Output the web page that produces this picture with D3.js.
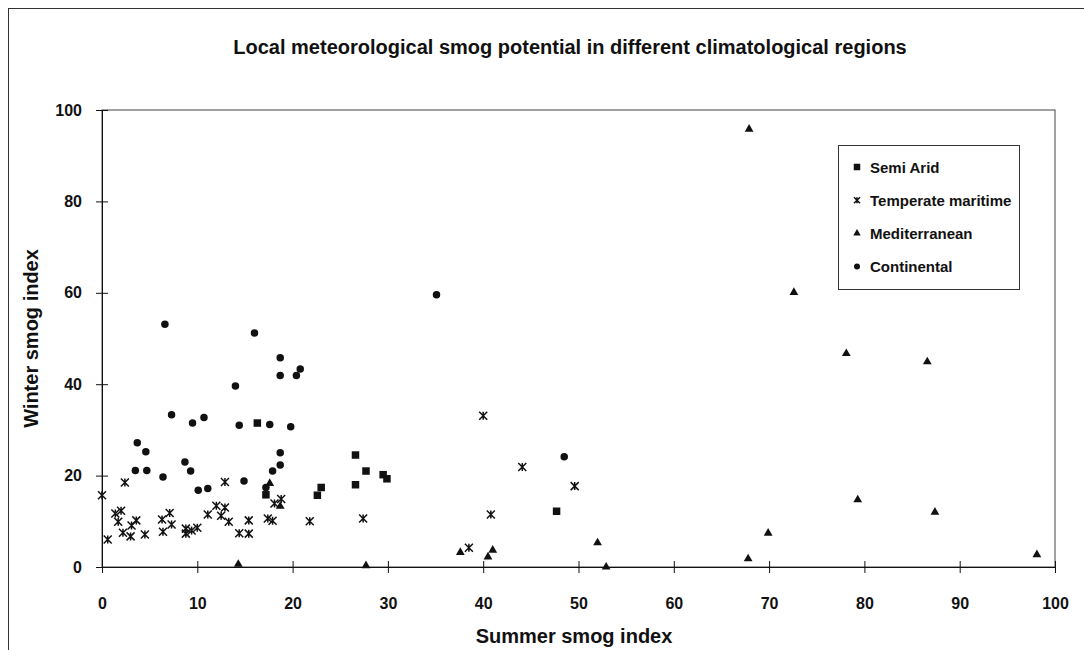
<!DOCTYPE html>
<html>
<head>
<meta charset="utf-8">
<script src="https://cdn.jsdelivr.net/npm/d3@7"></script>
<style>
  html, body { margin: 0; padding: 0; background: #fff; }
  svg { display: block; font-family: Arial, "Liberation Sans", Helvetica, sans-serif; }
</style>
</head>
<body>
<svg id="chart" width="1084" height="650"></svg>
<script>
// Summer / winter smog index per site, grouped by climatological region
const semiArid = [
  [16.3, 31.5], [17.2, 15.8], [22.6, 15.7], [23.0, 17.4], [26.6, 18.0],
  [26.6, 24.5], [27.7, 21.0], [29.5, 20.2], [29.9, 19.3], [47.7, 12.2]
];
const temperateMaritime = [
  [0.0, 15.7], [0.6, 6.0], [1.4, 11.7], [2.0, 12.3], [1.7, 9.9], [2.2, 7.5],
  [2.4, 18.5], [3.1, 9.1], [3.6, 10.2], [3.0, 6.7], [4.5, 7.1], [6.3, 10.4],
  [7.1, 11.8], [7.3, 9.3], [6.4, 7.7], [8.8, 8.4], [8.8, 7.3], [9.4, 8.0],
  [10.0, 8.6], [11.1, 11.5], [12.0, 13.4], [12.9, 13.0], [12.5, 11.2],
  [13.3, 9.9], [12.9, 18.6], [14.4, 7.4], [15.4, 7.3], [15.4, 10.2],
  [17.4, 10.6], [17.9, 10.1], [18.1, 13.9], [18.8, 14.9], [21.8, 10.0],
  [27.4, 10.6], [38.5, 4.2], [40.0, 33.1], [40.8, 11.5], [44.1, 21.9], [49.6, 17.7]
];
const mediterranean = [
  [14.3, 0.6], [17.6, 18.3], [18.7, 13.3], [27.7, 0.3], [37.6, 3.2], [40.5, 2.2],
  [41.0, 3.7], [52.0, 5.3], [52.9, 0.0], [67.8, 1.8], [67.9, 95.8], [69.9, 7.4],
  [72.6, 60.1], [78.1, 46.7], [79.3, 14.7], [86.6, 44.9], [87.4, 12.0], [98.1, 2.7]
];
const continental = [
  [3.5, 21.1], [3.7, 27.2], [4.6, 25.2], [4.7, 21.1], [6.4, 19.7], [6.6, 53.1],
  [7.3, 33.3], [8.7, 23.0], [9.3, 21.0], [9.5, 31.5], [10.1, 16.8], [10.7, 32.7],
  [11.1, 17.2], [14.0, 39.6], [14.4, 31.0], [14.9, 18.8], [16.0, 51.2], [17.2, 17.4],
  [17.6, 31.2], [17.9, 21.0], [18.7, 45.8], [18.7, 41.9], [18.7, 25.0], [18.7, 22.3],
  [19.8, 30.7], [20.4, 41.9], [20.8, 43.3], [35.1, 59.6], [48.5, 24.1]
];

const seriesNames = ["Semi Arid", "Temperate maritime", "Mediterranean", "Continental"];
const xTicks = [0, 10, 20, 30, 40, 50, 60, 70, 80, 90, 100];
const yTicks = [0, 20, 40, 60, 80, 100];

const chartTitle = "Local meteorological smog potential in different climatological regions";
const xTitle = "Summer smog index";
const yTitle = "Winter smog index";

const svg = d3.select("#chart");
const ink = "#111";

const plot = { left: 102, right: 1055, top: 110, bottom: 567 };
const x = d3.scaleLinear().domain([0, 100]).range([plot.left, plot.right]);
const y = d3.scaleLinear().domain([0, 100]).range([plot.bottom, plot.top]);

// outer chart frame (extends past the lower/right edges)
svg.append("rect")
  .attr("x", 8.5).attr("y", 8.5)
  .attr("width", 1090).attr("height", 660)
  .attr("fill", "none").attr("stroke", "#333").attr("stroke-width", 1);

// chart title
svg.append("text")
  .attr("x", 570).attr("y", 54)
  .attr("text-anchor", "middle")
  .attr("font-size", 20).attr("font-weight", "bold").attr("fill", ink)
  .text(chartTitle);

// plot area border
svg.append("rect")
  .attr("x", plot.left).attr("y", plot.top)
  .attr("width", plot.right - plot.left).attr("height", plot.bottom - plot.top)
  .attr("fill", "none").attr("stroke", "#444").attr("stroke-width", 1);

// x axis with crossing tick marks
const xAxis = svg.append("g")
  .attr("transform", `translate(0,${plot.bottom})`)
  .call(d3.axisBottom(x).tickValues(xTicks).tickSizeOuter(0).tickSizeInner(6).tickPadding(25));
xAxis.select(".domain").attr("stroke", ink);
xAxis.selectAll(".tick line").attr("y1", -6).attr("stroke", ink);
xAxis.selectAll(".tick text")
  .attr("font-size", 16).attr("font-weight", "bold").attr("fill", ink)
  .attr("font-family", "Arial, 'Liberation Sans', sans-serif");

// y axis with crossing tick marks
const yAxis = svg.append("g")
  .attr("transform", `translate(${plot.left},0)`)
  .call(d3.axisLeft(y).tickValues(yTicks).tickSizeOuter(0).tickSizeInner(6).tickPadding(14));
yAxis.select(".domain").attr("stroke", ink);
yAxis.selectAll(".tick line").attr("x1", 6).attr("stroke", ink);
yAxis.selectAll(".tick text")
  .attr("font-size", 16).attr("font-weight", "bold").attr("fill", ink)
  .attr("font-family", "Arial, 'Liberation Sans', sans-serif");

// axis titles
svg.append("text")
  .attr("x", 574).attr("y", 643)
  .attr("text-anchor", "middle")
  .attr("font-size", 20).attr("font-weight", "bold").attr("fill", ink)
  .text(xTitle);
svg.append("text")
  .attr("transform", `translate(38,${(plot.top + plot.bottom) / 2}) rotate(-90)`)
  .attr("text-anchor", "middle")
  .attr("font-size", 20).attr("font-weight", "bold").attr("fill", ink)
  .text(yTitle);

// marker shapes
const squarePath = s => d3.symbol(d3.symbolSquare, s * s)();
const circlePath = s => d3.symbol(d3.symbolCircle, Math.PI * s * s / 4)();
const trianglePath = s => d3.symbol(d3.symbolTriangle, s * s * 0.433)();
const starPath = s => {
  const h = s / 2;
  return `M${-h},${-h}L${h},${h}M${-h},${h}L${h},${-h}M0,${-h}L0,${h}`;
};

const series = [
  { name: seriesNames[0], data: semiArid, shape: "square" },
  { name: seriesNames[1], data: temperateMaritime, shape: "star" },
  { name: seriesNames[2], data: mediterranean, shape: "triangle" },
  { name: seriesNames[3], data: continental, shape: "circle" }
];

function drawMarker(sel, shape, size) {
  if (shape === "star") {
    sel.attr("d", starPath(size)).attr("fill", "none")
      .attr("stroke", ink).attr("stroke-width", 1.5);
  } else {
    const p = shape === "square" ? squarePath(size)
      : shape === "circle" ? circlePath(size) : trianglePath(size);
    sel.attr("d", p).attr("fill", ink).attr("stroke", "none");
  }
}

const markerSize = { square: 7.5, star: 8, triangle: 8.8, circle: 7.5 };

series.forEach(s => {
  svg.append("g").selectAll("path")
    .data(s.data)
    .join("path")
    .attr("transform", d => `translate(${x(d[0])},${y(d[1])})`)
    .call(sel => drawMarker(sel, s.shape, markerSize[s.shape]));
});

// legend
const legend = svg.append("g");
legend.append("rect")
  .attr("x", 838.5).attr("y", 145.5)
  .attr("width", 181).attr("height", 144)
  .attr("fill", "#fff").attr("stroke", "#333").attr("stroke-width", 1);
const legendSize = { square: 6.5, star: 6, triangle: 7.5, circle: 6 };
series.forEach((s, i) => {
  const cy = 167 + i * 33.2;
  legend.append("path")
    .attr("transform", `translate(857,${cy})`)
    .call(sel => drawMarker(sel, s.shape, legendSize[s.shape]));
  legend.append("text")
    .attr("x", 870).attr("y", cy + 5.5)
    .attr("font-size", 15).attr("font-weight", "bold").attr("fill", ink)
    .text(s.name);
});
</script>
</body>
</html>
